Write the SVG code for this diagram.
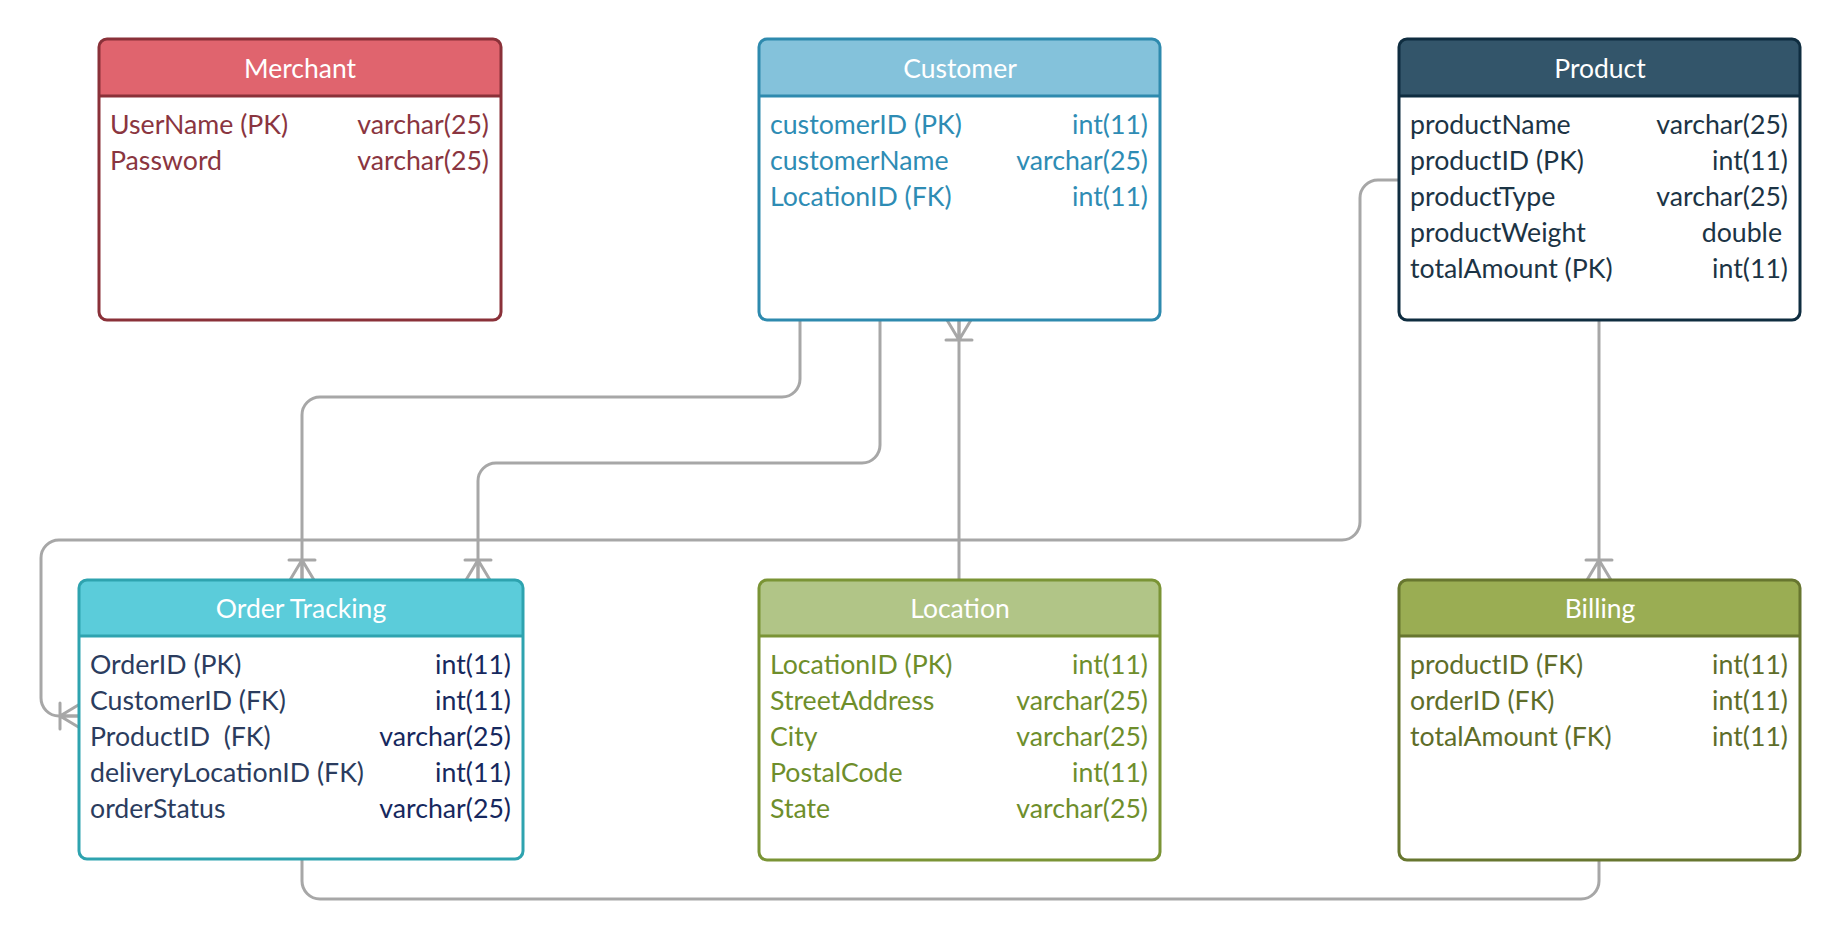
<svg xmlns="http://www.w3.org/2000/svg" width="1841" height="940" viewBox="0 0 1841 940">
  <defs>
    <style>
      .box { fill: none; stroke-width: 3; }
      .body { fill: #ffffff; }
      .sep { stroke-width: 3; }
      .title { font-family: Lato, "Liberation Sans", sans-serif; font-size: 26.5px; fill: #ffffff; text-anchor: middle; }
      .f { font-family: Lato, "Liberation Sans", sans-serif; font-size: 26.7px; white-space: pre; }
      .t { text-anchor: end; }
      .link { fill: none; stroke: #a7a7a7; stroke-width: 3; stroke-linejoin: round; }
      .crow { fill: none; stroke: #a7a7a7; stroke-width: 3; stroke-linecap: round; }

      #merchant .box, #merchant .sep { stroke: #8a3139; }
      #merchant .head { fill: #e0646e; }
      #merchant .f { fill: #8a3540; }

      #customer .box, #customer .sep { stroke: #2e8aae; }
      #customer .head { fill: #84c2db; }
      #customer .f { fill: #2e8cb4; }

      #product .box, #product .sep { stroke: #0f2d40; }
      #product .head { fill: #33556a; }
      #product .f { fill: #1c3445; }

      #order-tracking .box, #order-tracking .sep { stroke: #2ea3af; }
      #order-tracking .head { fill: #5bccda; }
      #order-tracking .f { fill: #2b3c5e; }
      #order-tracking .t { fill: #16285e; }

      #location .box, #location .sep { stroke: #7a9435; }
      #location .head { fill: #b1c587; }
      #location .f { fill: #6e8e2b; }

      #billing .box, #billing .sep { stroke: #67762f; }
      #billing .head { fill: #9aad53; }
      #billing .f { fill: #5e6d29; }
    </style>
    <!-- "many" crow's foot; path direction points into the table -->
    <marker id="many" markerUnits="userSpaceOnUse" orient="auto" refX="0" refY="0"
            markerWidth="30" markerHeight="30" viewBox="-25 -15 30 30" overflow="visible">
      <path class="crow" d="M-20,-13 V13 M-20,0 L0,-12 M-20,0 L0,0 M-20,0 L0,12"/>
    </marker>
  </defs>

  <rect width="1841" height="940" fill="#ffffff"/>

  <!-- relationships -->
  <g id="connectors">
    <!-- Customer -> Order Tracking (customer) -->
    <path class="link" marker-end="url(#many)" d="M800,320 V379 a18,18 0 0 1 -18,18 H320 a18,18 0 0 0 -18,18 V580"/>
    <!-- Customer -> Order Tracking (delivery location) -->
    <path class="link" marker-end="url(#many)" d="M880,320 V445 a18,18 0 0 1 -18,18 H496 a18,18 0 0 0 -18,18 V580"/>
    <!-- Location -> Customer -->
    <path class="link" marker-end="url(#many)" d="M959,580 V320"/>
    <!-- Product -> Order Tracking -->
    <path class="link" marker-end="url(#many)" d="M1399,180 H1378 a18,18 0 0 0 -18,18 V522 a18,18 0 0 1 -18,18 H59 a18,18 0 0 0 -18,18 V698 a18,18 0 0 0 18,18 H80"/>
    <!-- Product -> Billing -->
    <path class="link" marker-end="url(#many)" d="M1599,320 V580"/>
    <!-- Order Tracking -> Billing -->
    <path class="link" d="M302,859 V881 a18,18 0 0 0 18,18 H1581 a18,18 0 0 0 18,-18 V860"/>
  </g>

  <g id="merchant">
    <rect class="body" x="99" y="39" width="402" height="281" rx="8"/>
    <path class="head" d="M99,96 V47 a8,8 0 0 1 8,-8 H493 a8,8 0 0 1 8,8 V96 Z"/>
    <line class="sep" x1="99" y1="96" x2="501" y2="96"/>
    <rect class="box" x="99" y="39" width="402" height="281" rx="8"/>
    <text class="title" x="300" y="78">Merchant</text>
    <text class="f" x="110" y="134">UserName (PK)</text>
    <text class="f t" x="489" y="134">varchar(25)</text>
    <text class="f" x="110" y="170">Password</text>
    <text class="f t" x="489" y="170">varchar(25)</text>
  </g>

  <g id="customer">
    <rect class="body" x="759" y="39" width="401" height="281" rx="8"/>
    <path class="head" d="M759,96 V47 a8,8 0 0 1 8,-8 H1152 a8,8 0 0 1 8,8 V96 Z"/>
    <line class="sep" x1="759" y1="96" x2="1160" y2="96"/>
    <rect class="box" x="759" y="39" width="401" height="281" rx="8"/>
    <text class="title" x="960" y="78">Customer</text>
    <text class="f" x="770" y="134">customerID (PK)</text>
    <text class="f t" x="1148" y="134">int(11)</text>
    <text class="f" x="770" y="170">customerName</text>
    <text class="f t" x="1148" y="170">varchar(25)</text>
    <text class="f" x="770" y="206">LocationID (FK)</text>
    <text class="f t" x="1148" y="206">int(11)</text>
  </g>

  <g id="product">
    <rect class="body" x="1399" y="39" width="401" height="281" rx="8"/>
    <path class="head" d="M1399,96 V47 a8,8 0 0 1 8,-8 H1792 a8,8 0 0 1 8,8 V96 Z"/>
    <line class="sep" x1="1399" y1="96" x2="1800" y2="96"/>
    <rect class="box" x="1399" y="39" width="401" height="281" rx="8"/>
    <text class="title" x="1600" y="78">Product</text>
    <text class="f" x="1410" y="134">productName</text>
    <text class="f t" x="1788" y="134">varchar(25)</text>
    <text class="f" x="1410" y="170">productID (PK)</text>
    <text class="f t" x="1788" y="170">int(11)</text>
    <text class="f" x="1410" y="206">productType</text>
    <text class="f t" x="1788" y="206">varchar(25)</text>
    <text class="f" x="1410" y="242">productWeight</text>
    <text class="f t" x="1782" y="242">double</text>
    <text class="f" x="1410" y="278">totalAmount (PK)</text>
    <text class="f t" x="1788" y="278">int(11)</text>
  </g>

  <g id="order-tracking">
    <rect class="body" x="79" y="580" width="444" height="279" rx="8"/>
    <path class="head" d="M79,636 V588 a8,8 0 0 1 8,-8 H515 a8,8 0 0 1 8,8 V636 Z"/>
    <line class="sep" x1="79" y1="636" x2="523" y2="636"/>
    <rect class="box" x="79" y="580" width="444" height="279" rx="8"/>
    <text class="title" x="301" y="618">Order Tracking</text>
    <text class="f" x="90" y="674">OrderID (PK)</text>
    <text class="f t" x="511" y="674">int(11)</text>
    <text class="f" x="90" y="710">CustomerID (FK)</text>
    <text class="f t" x="511" y="710">int(11)</text>
    <text class="f" x="90" y="746">ProductID  (FK)</text>
    <text class="f t" x="511" y="746">varchar(25)</text>
    <text class="f" x="90" y="782">deliveryLocationID (FK)</text>
    <text class="f t" x="511" y="782">int(11)</text>
    <text class="f" x="90" y="818">orderStatus</text>
    <text class="f t" x="511" y="818">varchar(25)</text>
  </g>

  <g id="location">
    <rect class="body" x="759" y="580" width="401" height="280" rx="8"/>
    <path class="head" d="M759,636 V588 a8,8 0 0 1 8,-8 H1152 a8,8 0 0 1 8,8 V636 Z"/>
    <line class="sep" x1="759" y1="636" x2="1160" y2="636"/>
    <rect class="box" x="759" y="580" width="401" height="280" rx="8"/>
    <text class="title" x="960" y="618">Location</text>
    <text class="f" x="770" y="674">LocationID (PK)</text>
    <text class="f t" x="1148" y="674">int(11)</text>
    <text class="f" x="770" y="710">StreetAddress</text>
    <text class="f t" x="1148" y="710">varchar(25)</text>
    <text class="f" x="770" y="746">City</text>
    <text class="f t" x="1148" y="746">varchar(25)</text>
    <text class="f" x="770" y="782">PostalCode</text>
    <text class="f t" x="1148" y="782">int(11)</text>
    <text class="f" x="770" y="818">State</text>
    <text class="f t" x="1148" y="818">varchar(25)</text>
  </g>

  <g id="billing">
    <rect class="body" x="1399" y="580" width="401" height="280" rx="8"/>
    <path class="head" d="M1399,636 V588 a8,8 0 0 1 8,-8 H1792 a8,8 0 0 1 8,8 V636 Z"/>
    <line class="sep" x1="1399" y1="636" x2="1800" y2="636"/>
    <rect class="box" x="1399" y="580" width="401" height="280" rx="8"/>
    <text class="title" x="1600" y="618">Billing</text>
    <text class="f" x="1410" y="674">productID (FK)</text>
    <text class="f t" x="1788" y="674">int(11)</text>
    <text class="f" x="1410" y="710">orderID (FK)</text>
    <text class="f t" x="1788" y="710">int(11)</text>
    <text class="f" x="1410" y="746">totalAmount (FK)</text>
    <text class="f t" x="1788" y="746">int(11)</text>
  </g>
</svg>
